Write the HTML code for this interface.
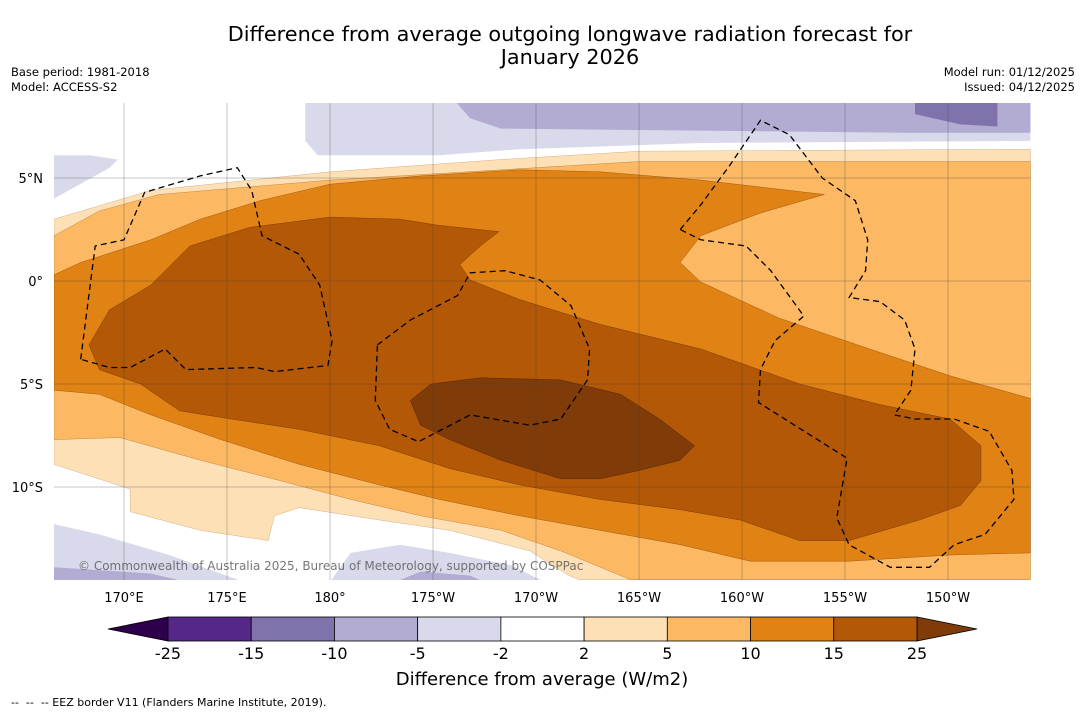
<!DOCTYPE html>
<html><head><meta charset="utf-8"><style>
body{margin:0;background:#fff;font-family:"Liberation Sans","DejaVu Sans",sans-serif;}
#wrap{position:relative;width:1085px;height:713px;overflow:hidden;background:#fff}
</style></head><body>
<div id="wrap">
<svg id="svg" width="1085" height="713" xmlns="http://www.w3.org/2000/svg">
<text x="570" y="41" text-anchor="middle" font-size="20.8" font-family="DejaVu Sans, sans-serif">Difference from average outgoing longwave radiation forecast for</text>
<text x="570" y="64" text-anchor="middle" font-size="20.8" font-family="DejaVu Sans, sans-serif">January 2026</text>
<text x="11" y="76" font-size="11.5" font-family="DejaVu Sans, sans-serif">Base period: 1981-2018</text>
<text x="11" y="91" font-size="11.5" font-family="DejaVu Sans, sans-serif">Model: ACCESS-S2</text>
<text x="1075" y="76" text-anchor="end" font-size="11.5" font-family="DejaVu Sans, sans-serif">Model run: 01/12/2025</text>
<text x="1075" y="91" text-anchor="end" font-size="11.5" font-family="DejaVu Sans, sans-serif">Issued: 04/12/2025</text>
<defs><clipPath id="mapclip"><rect x="54" y="103" width="977" height="477"/></clipPath></defs>
<g id="map" clip-path="url(#mapclip)"></g>
<g id="axes"></g>
<text x="78" y="570" font-size="12" fill="#555" fill-opacity="0.8" font-family="DejaVu Sans, sans-serif">© Commonwealth of Australia 2025, Bureau of Meteorology, supported by COSPPac</text>
<g id="cbar"></g>
<text x="542" y="685" text-anchor="middle" font-size="18" font-family="DejaVu Sans, sans-serif">Difference from average (W/m2)</text>
<text x="11" y="706" font-size="11" font-family="DejaVu Sans, sans-serif" xml:space="preserve">--  --  -- EEZ border V11 (Flanders Marine Institute, 2019).</text>
</svg>
</div>
<script>
const levels=["-25","-15","-10","-5","-2","2","5","10","15","25"];
const levelColors=["#542788","#8073ac","#b2abd2","#d8daeb","#ffffff","#fee0b6","#fdb863","#e08214","#b35806"];
const lonTicks=[170,175,180,185,190,195,200,205,210];
const lonTickLabels=["170°E","175°E","180°","175°W","170°W","165°W","160°W","155°W","150°W"];
const latTicks=[5,0,-5,-10];
const latTickLabels=["5°N","0°","5°S","10°S"];
const contourLight=[[166.6,3.0],[171.3,4.4],[180.0,5.3],[188.3,5.9],[195.0,6.3],[214,6.4],[214,-14.5],[192.1,-14.5],[191.6,-14.3],[189.7,-13.1],[185.8,-12.1],[182.4,-11.6],[178.5,-11.0],[177.3,-11.4],[177.0,-12.6],[173.7,-12.1],[170.3,-11.2],[170.3,-10.1],[166.6,-8.9]];
const contour5=[[166.6,2.2],[168.8,3.4],[171.7,4.2],[180.0,4.9],[188.3,5.4],[195.0,5.8],[214,5.8],[214,-14.5],[194.6,-14.5],[194.1,-14.3],[191.2,-13.1],[188.3,-12.1],[184.4,-11.4],[181.0,-10.6],[177.6,-9.7],[173.7,-8.7],[169.8,-7.6],[166.6,-7.7]];
const contour10=[[166.6,0.3],[167.9,0.9],[171.3,2.0],[173.7,3.0],[176.6,3.9],[180.0,4.7],[184.4,5.1],[189.2,5.4],[193.1,5.3],[198.0,4.9],[204.0,4.2],[200.9,3.3],[198.0,2.2],[197.0,0.9],[198.0,-0.05],[201.8,-1.8],[206.2,-3.3],[210.1,-4.6],[214,-5.7],[214,-13.2],[210.1,-13.3],[205.2,-13.6],[200.4,-13.6],[197.0,-12.8],[193.1,-12.1],[189.2,-11.4],[185.3,-10.6],[182.4,-9.9],[178.5,-8.9],[174.7,-7.7],[171.3,-6.5],[168.8,-5.5],[166.6,-5.3]];
const contour15=[[168.3,-3.1],[169.3,-1.4],[171.3,-0.2],[173.2,1.7],[176.1,2.6],[180.0,3.1],[183.4,3.0],[185.3,2.7],[188.2,2.4],[187.3,1.7],[186.3,0.8],[186.8,0.05],[189.2,-0.9],[193.1,-2.1],[198.0,-3.3],[202.8,-5.0],[206.7,-6.0],[210.1,-6.7],[211.6,-8.0],[211.6,-9.7],[210.6,-10.9],[208.6,-11.6],[205.2,-12.6],[202.8,-12.6],[199.9,-11.6],[197.0,-11.1],[193.1,-10.6],[189.2,-9.9],[185.8,-9.1],[182.4,-8.0],[178.5,-7.2],[175.2,-6.7],[172.7,-6.3],[170.8,-5.0],[168.8,-4.3]];
const contour25=[[183.9,-5.8],[184.9,-5.0],[187.3,-4.7],[191.2,-4.8],[194.1,-5.5],[196.0,-6.7],[197.7,-8.0],[197.0,-8.7],[195.0,-9.2],[193.1,-9.6],[191.2,-9.6],[188.3,-8.7],[185.8,-7.7],[184.4,-7.0]];
const negTopLight=[[178.8,8.7],[178.8,6.8],[179.4,6.1],[185.3,6.1],[189.2,6.4],[198.0,6.7],[214,6.8],[214,8.7]];
const negLeftLight=[[166.6,6.1],[168.3,6.1],[169.7,5.9],[169.3,5.5],[166.6,4.0]];
const negTop5=[[186.1,8.7],[186.8,7.9],[188.3,7.4],[198.0,7.3],[207.7,7.2],[214,7.2],[214,8.7]];
const negTop10=[[208.4,8.7],[212.4,8.7],[212.4,7.5],[210.6,7.6],[208.4,8.1]];
const negBLLight=[[166.6,-11.8],[168.8,-12.3],[172.2,-13.3],[175.8,-14.6],[166.6,-14.6]];
const negBL5=[[166.6,-13.9],[171.3,-14.2],[173.0,-14.6],[166.6,-14.6]];
const negBMLight=[[180.0,-14.6],[181.0,-13.2],[183.4,-12.8],[185.8,-13.2],[188.8,-13.8],[190.4,-14.6]];
const negBM5=[[183.2,-14.6],[184.4,-14.1],[186.8,-14.3],[187.5,-14.6]];
const eezWest=[[167.9,-3.8],[168.6,1.7],[170.0,2.0],[171.0,4.3],[173.7,5.1],[175.5,5.5],[176.2,4.4],[176.7,2.2],[178.5,1.3],[179.5,-0.2],[180.1,-2.9],[179.9,-4.1],[177.3,-4.4],[176.4,-4.2],[173.0,-4.3],[172.0,-3.3],[170.3,-4.2],[169.3,-4.2]];
const eezMid=[[182.3,-3.1],[183.9,-1.9],[186.2,-0.7],[186.8,0.4],[188.5,0.5],[190.2,0.05],[191.7,-1.2],[192.6,-3.3],[192.5,-4.8],[191.2,-6.7],[189.7,-7.0],[186.8,-6.5],[184.3,-7.8],[182.9,-7.2],[182.2,-5.8]];
const eezEast=[[197.0,2.5],[198.0,3.7],[199.4,5.6],[200.9,7.8],[202.3,7.1],[203.9,5.0],[205.5,3.9],[206.1,2.0],[206.0,0.5],[205.2,-0.8],[206.7,-1.0],[207.9,-1.9],[208.4,-3.3],[208.2,-5.3],[207.4,-6.5],[208.4,-6.7],[210.3,-6.7],[212.0,-7.3],[213.1,-9.2],[213.2,-10.6],[211.8,-12.3],[210.3,-12.8],[209.1,-13.9],[207.2,-13.9],[205.2,-12.8],[204.6,-11.5],[205.1,-8.6],[200.8,-5.9],[200.9,-4.3],[201.6,-2.9],[203.0,-1.7],[201.4,0.5],[200.2,1.7],[198.0,2.0]];

const NS="http://www.w3.org/2000/svg";
function xOf(lon){return 124+(lon-170)*20.6;}
function yOf(lat){return 281-lat*20.6;}
function pts(a){return a.map(p=>xOf(p[0]).toFixed(1)+","+yOf(p[1]).toFixed(1)).join(" ");}
const map=document.getElementById("map");
function poly(a,fill,name,stroke){
  const e=document.createElementNS(NS,"polygon");
  e.setAttribute("points",pts(a));
  e.setAttribute("fill",fill);
  e.setAttribute("stroke",stroke||"none");
  e.setAttribute("stroke-width","0.4");
  e.setAttribute("stroke-linejoin","round");
  
  
  map.appendChild(e);
}
poly(negTopLight,levelColors[3],"contour-neg5-top");
poly(negLeftLight,levelColors[3],"contour-neg5-left");
poly(negTop5,levelColors[2],"contour-neg10-top");
poly(negTop10,levelColors[1],"contour-neg15-top");
poly(negBLLight,levelColors[3],"contour-neg5-bottom-left");
poly(negBL5,levelColors[2],"contour-neg10-bottom-left");
poly(negBMLight,levelColors[3],"contour-neg5-bottom-mid");
poly(negBM5,levelColors[2],"contour-neg10-bottom-mid");
poly(contourLight,levelColors[5],"contour-2-5","#c9a070");
poly(contour5,levelColors[6],"contour-5-10","#b07a30");
poly(contour10,levelColors[7],"contour-10-15","#8a4c08");
poly(contour15,levelColors[8],"contour-15-25","#6a3004");
poly(contour25,"#7f3b08","contour-over-25","#4a2004");
function eez(a,name){
  const e=document.createElementNS(NS,"polygon");
  e.setAttribute("points",pts(a));
  e.setAttribute("fill","none");
  e.setAttribute("stroke","#000");
  e.setAttribute("stroke-width","1.3");
  e.setAttribute("stroke-dasharray","6,4");
  
  
  map.appendChild(e);
}
eez(eezWest,"eez-border-west");
eez(eezMid,"eez-border-middle");
eez(eezEast,"eez-border-east");
const axes=document.getElementById("axes");
lonTicks.forEach((lon,i)=>{
  const l=document.createElementNS(NS,"line");
  l.setAttribute("x1",xOf(lon));l.setAttribute("x2",xOf(lon));
  l.setAttribute("y1",103);l.setAttribute("y2",580);
  l.setAttribute("stroke","#444");l.setAttribute("stroke-width","0.5");l.setAttribute("stroke-opacity","0.6");
  
  
  axes.appendChild(l);
  const t=document.createElementNS(NS,"text");
  t.setAttribute("x",xOf(lon));t.setAttribute("y",602);
  t.setAttribute("text-anchor","middle");t.setAttribute("font-size","13");
  t.setAttribute("font-family","DejaVu Sans, sans-serif");
  t.textContent=lonTickLabels[i];
  
  
  axes.appendChild(t);
});
latTicks.forEach((lat,i)=>{
  const l=document.createElementNS(NS,"line");
  l.setAttribute("x1",54);l.setAttribute("x2",1031);
  l.setAttribute("y1",yOf(lat));l.setAttribute("y2",yOf(lat));
  l.setAttribute("stroke","#444");l.setAttribute("stroke-width","0.5");l.setAttribute("stroke-opacity","0.6");
  
  
  axes.appendChild(l);
  const t=document.createElementNS(NS,"text");
  t.setAttribute("x",43);t.setAttribute("y",yOf(lat)+5);
  t.setAttribute("text-anchor","end");t.setAttribute("font-size","13");
  t.setAttribute("font-family","DejaVu Sans, sans-serif");
  t.textContent=latTickLabels[i];
  
  
  axes.appendChild(t);
});
const cb=document.getElementById("cbar");
const cx0=168,cx1=917,cy=617,ch=24,bw=(cx1-cx0)/levelColors.length;
const lt=document.createElementNS(NS,"polygon");
lt.setAttribute("points",`108,${cy+ch/2} ${cx0},${cy} ${cx0},${cy+ch}`);
lt.setAttribute("fill","#2d004b");lt.setAttribute("stroke","#000");lt.setAttribute("stroke-width","0.8");


cb.appendChild(lt);
const rt=document.createElementNS(NS,"polygon");
rt.setAttribute("points",`977,${cy+ch/2} ${cx1},${cy} ${cx1},${cy+ch}`);
rt.setAttribute("fill","#7f3b08");rt.setAttribute("stroke","#000");rt.setAttribute("stroke-width","0.8");


cb.appendChild(rt);
levelColors.forEach((c,i)=>{
  const r=document.createElementNS(NS,"rect");
  r.setAttribute("x",cx0+i*bw);r.setAttribute("y",cy);r.setAttribute("width",bw);r.setAttribute("height",ch);
  r.setAttribute("fill",c);r.setAttribute("stroke","#000");r.setAttribute("stroke-width","0.8");
  
  
  cb.appendChild(r);
});
levels.forEach((lab,i)=>{
  const t=document.createElementNS(NS,"text");
  t.setAttribute("x",cx0+i*bw);t.setAttribute("y",659);
  t.setAttribute("text-anchor","middle");t.setAttribute("font-size","16");
  t.setAttribute("font-family","DejaVu Sans, sans-serif");
  t.textContent=lab;
  
  
  cb.appendChild(t);
});
</script>
</body></html>
